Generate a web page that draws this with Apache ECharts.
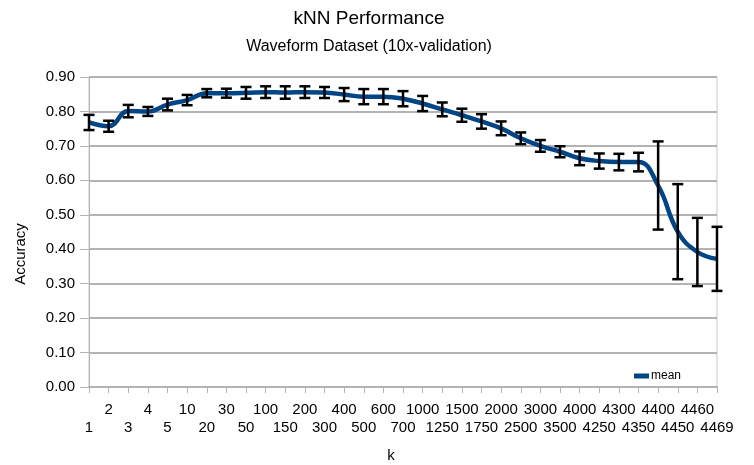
<!DOCTYPE html>
<html>
<head>
<meta charset="utf-8">
<script src="https://cdn.jsdelivr.net/npm/echarts@6/dist/echarts.min.js"></script>
<style>
  html, body { margin: 0; padding: 0; background: #fff; }
  #chart { width: 754px; height: 465px; }
</style>
</head>
<body>
<div id="chart"></div>
<script>
// k values on the x axis
var kValues = ['1', '2', '3', '4', '5', '10', '20', '30', '50', '100', '150', '200', '300', '400', '500',
  '600', '700', '1000', '1250', '1500', '1750', '2000', '2500', '3000', '3500', '4000', '4250', '4300',
  '4350', '4400', '4450', '4460', '4469'];

// mean accuracy (10x-validation)
var meanAcc = [0.768, 0.757, 0.801, 0.800, 0.820, 0.833, 0.853, 0.853, 0.854, 0.856, 0.855, 0.856, 0.855,
  0.849, 0.843, 0.843, 0.837, 0.823, 0.806, 0.789, 0.771, 0.751, 0.722, 0.700, 0.683, 0.664, 0.656,
  0.653, 0.653, 0.585, 0.451, 0.392, 0.372];

// error bar half-height
var errAcc = [0.022, 0.016, 0.018, 0.013, 0.017, 0.015, 0.012, 0.013, 0.017, 0.017, 0.018, 0.017, 0.016,
  0.019, 0.022, 0.022, 0.022, 0.022, 0.020, 0.019, 0.021, 0.020, 0.017, 0.017, 0.016, 0.020, 0.022,
  0.024, 0.027, 0.128, 0.138, 0.099, 0.093];

var yTicks = [0, 0.9, 0.1]; // min, max, step

var errData = [];
for (var i = 0; i < meanAcc.length; i++) {
  errData.push([i, meanAcc[i] - errAcc[i], meanAcc[i] + errAcc[i]]);
}

var mychart = echarts.init(document.getElementById('chart'));
var font = 'Liberation Sans, Arial, sans-serif';

function errorBars(params, api) {
  var lo = api.coord([api.value(0), api.value(1)]);
  var hi = api.coord([api.value(0), api.value(2)]);
  var w = 5.5;
  var st = { stroke: '#000', lineWidth: 2.5 };
  return {
    type: 'group',
    children: [
      { type: 'line', shape: { x1: lo[0], y1: lo[1], x2: hi[0], y2: hi[1] }, style: st },
      { type: 'line', shape: { x1: lo[0] - w, y1: lo[1], x2: lo[0] + w, y2: lo[1] }, style: st },
      { type: 'line', shape: { x1: hi[0] - w, y1: hi[1], x2: hi[0] + w, y2: hi[1] }, style: st }
    ]
  };
}

option = {
  backgroundColor: '#fff',
  animation: false,
  textStyle: { fontFamily: font },
  graphic: [
    { type: 'text', x: 369, y: 19, style: { text: 'kNN Performance', font: '19px ' + font, fill: '#000', align: 'center', verticalAlign: 'middle' } },
    { type: 'text', x: 369, y: 47, style: { text: 'Waveform Dataset (10x-validation)', font: '16px ' + font, fill: '#000', align: 'center', verticalAlign: 'middle' } },
    { type: 'text', x: 21, y: 254, rotation: Math.PI / 2, style: { text: 'Accuracy', font: '15px ' + font, fill: '#000', align: 'center', verticalAlign: 'middle' } },
    { type: 'text', x: 391, y: 456, style: { text: 'k', font: '15px ' + font, fill: '#000', align: 'center', verticalAlign: 'middle' } }
  ],
  legend: {
    data: ['mean'],
    left: 634,
    top: 370,
    icon: 'rect',
    itemWidth: 15,
    itemHeight: 5,
    itemGap: 2,
    padding: 0,
    textStyle: { fontSize: 12, color: '#000', padding: [0, 0, 0, -3] }
  },
  grid: {
    left: 89,
    right: 37,
    top: 77,
    bottom: 78,
    show: true,
    borderColor: '#c8c8c8',
    borderWidth: 1
  },
  xAxis: {
    type: 'category',
    data: kValues,
    boundaryGap: false,
    axisLine: { lineStyle: { color: '#b3b3b3', width: 2 } },
    axisTick: { show: true, length: 6, interval: 0, lineStyle: { color: '#b3b3b3' } },
    axisLabel: {
      interval: 0,
      margin: 14,
      fontSize: 15,
      lineHeight: 18,
      color: '#000',
      formatter: function (v, idx) { return idx % 2 === 0 ? '\n' + v : v; }
    },
    splitLine: { show: false }
  },
  yAxis: {
    type: 'value',
    min: yTicks[0],
    max: yTicks[1],
    interval: yTicks[2],
    axisLine: { show: true, lineStyle: { color: '#b3b3b3', width: 1 } },
    axisTick: { show: true, length: 9, lineStyle: { color: '#b3b3b3' } },
    axisLabel: {
      margin: 14,
      fontSize: 15,
      color: '#000',
      formatter: function (v) { return v.toFixed(2); }
    },
    splitLine: { lineStyle: { color: '#b3b3b3', width: 2 } }
  },
  series: [
    {
      name: 'mean',
      type: 'line',
      data: meanAcc,
      smooth: 0.45,
      showSymbol: false,
      symbol: 'none',
      color: '#004586',
      lineStyle: { color: '#004586', width: 4.5 },
      z: 2
    },
    {
      name: 'err',
      type: 'custom',
      data: errData,
      renderItem: errorBars,
      encode: { x: 0, y: [1, 2] },
      z: 3
    }
  ]
};

mychart.setOption(option, true);
</script>
</body>
</html>
